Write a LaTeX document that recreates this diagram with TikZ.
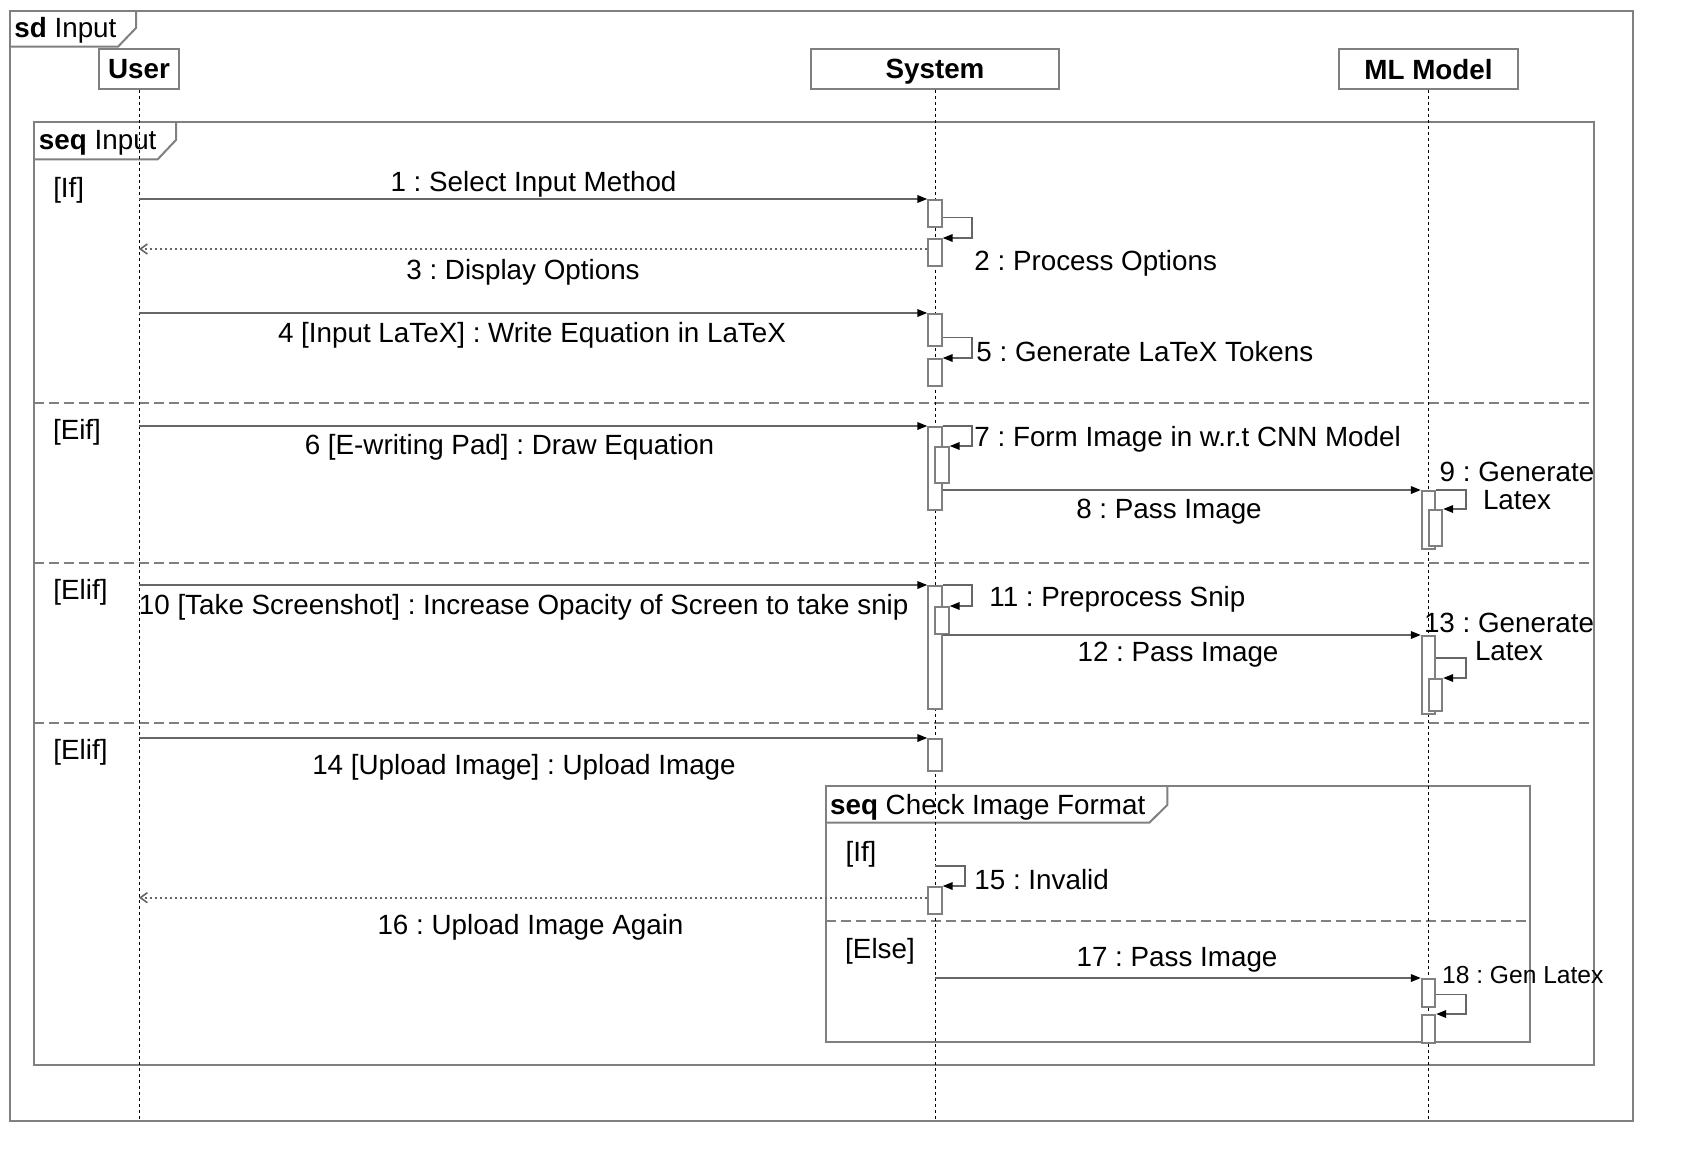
\documentclass[tikz,border=0pt]{standalone}
\usepackage{fontspec}
\setmainfont{Liberation Sans}
\usetikzlibrary{arrows.meta,positioning,calc}
\definecolor{framegray}{HTML}{808080}
\definecolor{msggray}{HTML}{666666}
\frenchspacing

\begin{document}
\begin{tikzpicture}[
  x=0.5pt,y=-0.5pt,
  font=\fontsize{13.9}{14}\selectfont,
  actor/.style={draw=framegray,line width=1pt,fill=white,minimum height=20pt,inner sep=0pt,text depth=0pt,font=\fontsize{13.9}{14}\selectfont\bfseries},
  life/.style={line width=0.5pt,dash pattern=on 1.5pt off 1.5pt},
  frame/.style={draw=framegray,line width=1pt},
  sep/.style={draw=framegray,line width=1pt,dash pattern=on 5pt off 2.5pt},
  act/.style={draw=framegray,line width=1pt,fill=white,minimum width=6.7pt,inner sep=0pt,anchor=north},
  msg/.style={draw=msggray,line width=0.8pt,-{Triangle[length=5pt,width=3.8pt,color=black]}},
  ret/.style={draw=msggray,line width=0.8pt,dash pattern=on 1pt off 1.5pt,-{Straight Barb[length=3.5pt,width=5pt,color=msggray]}},
  lbl/.style={inner sep=0pt,yshift=-1.5pt}
]
\useasboundingbox[fill=white] (0,0) rectangle (1682,1162);

% frames
\draw[frame] (9.7,10.7) rectangle (1633,1121);
\draw[frame] (9.7,46.7) -- (118,46.7) -- (136,28) -- (136,10.7);
\node[lbl,anchor=west] (sdlbl) at (14,27) {\textbf{sd} Input};

\draw[frame] (33.7,121.7) rectangle (1594,1065);
\draw[frame] (33.7,159.3) -- (157.7,159.3) -- (176,140) -- (176,121.7);
\node[lbl,anchor=west] (seqlbl) at (38.6,140) {\textbf{seq} Input};
\draw[sep] (33.7,403) -- (1594,403);
\draw[sep] (33.7,563) -- (1594,563);
\draw[sep] (33.7,723) -- (1594,723);

\draw[frame] (826,786) rectangle (1530,1041.7);
\draw[frame] (826,822.7) -- (1149.3,822.7) -- (1167.3,805) -- (1167.3,786);
\node[lbl,anchor=west] (chklbl) at (829.7,804) {\textbf{seq} Check Image Format};
\draw[sep] (826,921) -- (1530,921);

% guards
\node[lbl] (g1) at (68.7,187.7) {[If]};
\node[lbl] (g2) at (77,429) {[Eif]};
\node[lbl] (g3) at (80.5,589) {[Elif]};
\node[lbl] (g4) at (80.5,749) {[Elif]};
\node[lbl] (g5) at (861,851) {[If]};
\node[lbl] (g6) at (880,948) {[Else]};

% actors and lifelines
\node[actor,minimum width=40.2pt] (user) at (139,69) {User};
\node[actor,minimum width=124pt] (sys) at (935,69) {System};
\node[actor,minimum width=89.5pt] (ml) at (1428.5,69) {ML Model};
\coordinate (bot) at (0,1120);
\draw[life] (user) -- (user |- bot);
\draw[life] (sys) -- (sys |- bot);
\draw[life] (ml) -- (ml |- bot);

% activations
\node[act,minimum height=13.7pt] (a1) at (935,199) {};
\node[act,minimum height=13.7pt] (a2) at (935,238) {};
\node[act,minimum height=16.2pt] (a3) at (935,313) {};
\node[act,minimum height=13.7pt] (a4) at (935,358) {};
\node[act,minimum height=41.5pt] (a6) at (935,426) {};
\node[act,minimum height=18pt] (a7) at (942,446) {};
\node[act,minimum height=61.7pt] (a10) at (935,585) {};
\node[act,minimum height=13.7pt] (a11) at (942,606) {};
\node[act,minimum height=16.2pt] (a14) at (935,738) {};
\node[act,minimum height=13.7pt] (a15) at (935,886) {};
\node[act,minimum height=28.9pt] (m8) at (1428.5,490) {};
\node[act,minimum height=17.9pt] (m9) at (1435.5,509) {};
\node[act,minimum height=38.9pt] (m12) at (1428.5,635) {};
\node[act,minimum height=16.2pt] (m13) at (1435.5,678) {};
\node[act,minimum height=14pt] (m17) at (1428.5,978) {};
\node[act,minimum height=13.9pt] (m18) at (1428.5,1014) {};

% messages
\draw[msg] (user |- a1.north west) -- (a1.north west);
\draw[msg] ($(a1.north east)+(0,18.5)$) -- ++(29,0) |- (a2.north east);
\coordinate (r3) at ($(a2.north west)+(0,11)$);
\draw[ret] (r3) -- (user |- r3);
\draw[msg] (user |- a3.north west) -- (a3.north west);
\draw[msg] ($(a3.north east)+(0,24.4)$) -- ++(29,0) |- (a4.north east);
\draw[msg] (user |- a6.north west) -- (a6.north west);
\draw[msg] (a6.north east) -- ++(29,0) |- (a7.north east);
\draw[msg] (a6.east |- m8.north west) -- (m8.north west);
\draw[msg] (m8.north east) -- ++(30,0) |- (m9.north east);
\draw[msg] (user |- a10.north west) -- (a10.north west);
\draw[msg] (a10.north east) -- ++(29,0) |- (a11.north east);
\draw[msg] (a10.east |- m12.north west) -- (m12.north west);
\draw[msg] ($(m12.north east)+(0,22.7)$) -- ++(30,0) |- (m13.north east);
\draw[msg] (user |- a14.north west) -- (a14.north west);
\coordinate (s15) at (935,866);
\draw[msg] (s15) -- ++(30,0) |- (a15.north east);
\coordinate (r16) at ($(a15.north west)+(0,11.7)$);
\draw[ret] (r16) -- (user |- r16);
\draw[msg] (sys |- m17.north west) -- (m17.north west);
\draw[msg] ($(m17.north east)+(0,16.3)$) -- ++(30,0) |- (m18.north east);

% message labels
\node[lbl] (t1) at (533.5,181) {1 : Select Input Method};
\node[lbl,anchor=west] (t2) at (974,260.5) {2 : Process Options};
\node[lbl] (t3) at (523,269) {3 : Display Options};
\node[lbl] (t4) at (532,332.5) {4 [Input LaTeX] : Write Equation in LaTeX};
\node[lbl,anchor=west] (t5) at (976,348.6) {5 : Generate LaTeX Tokens};
\node[lbl] (t6) at (509.5,444) {6 [E-writing Pad] : Draw Equation};
\node[lbl,anchor=west] (t7) at (974,436.6) {7 : Form Image in w.r.t CNN Model};
\node[lbl] (t8) at (1169,508.5) {8 : Pass Image};
\node[lbl,align=center] (t9) at (1517,482.7) {9 : Generate\\Latex};
\node[lbl,anchor=west] (t10) at (138.5,604) {10 [Take Screenshot] : Increase Opacity of Screen to take snip};
\node[lbl,anchor=west] (t11) at (989,596.4) {11 : Preprocess Snip};
\node[lbl] (t12) at (1178,652) {12 : Pass Image};
\node[lbl,align=center] (t13) at (1509,634) {13 : Generate\\Latex};
\node[lbl] (t14) at (524,764) {14 [Upload Image] : Upload Image};
\node[lbl,anchor=west] (t15) at (974,876.4) {15 : Invalid};
\node[lbl] (t16) at (530.5,924.7) {16 : Upload Image Again};
\node[lbl] (t17) at (1177,956.8) {17 : Pass Image};
\node[lbl,anchor=west,font=\fontsize{12.3}{14}\selectfont] (t18) at (1441.7,972) {18 : Gen Latex};
\end{tikzpicture}
\end{document}
